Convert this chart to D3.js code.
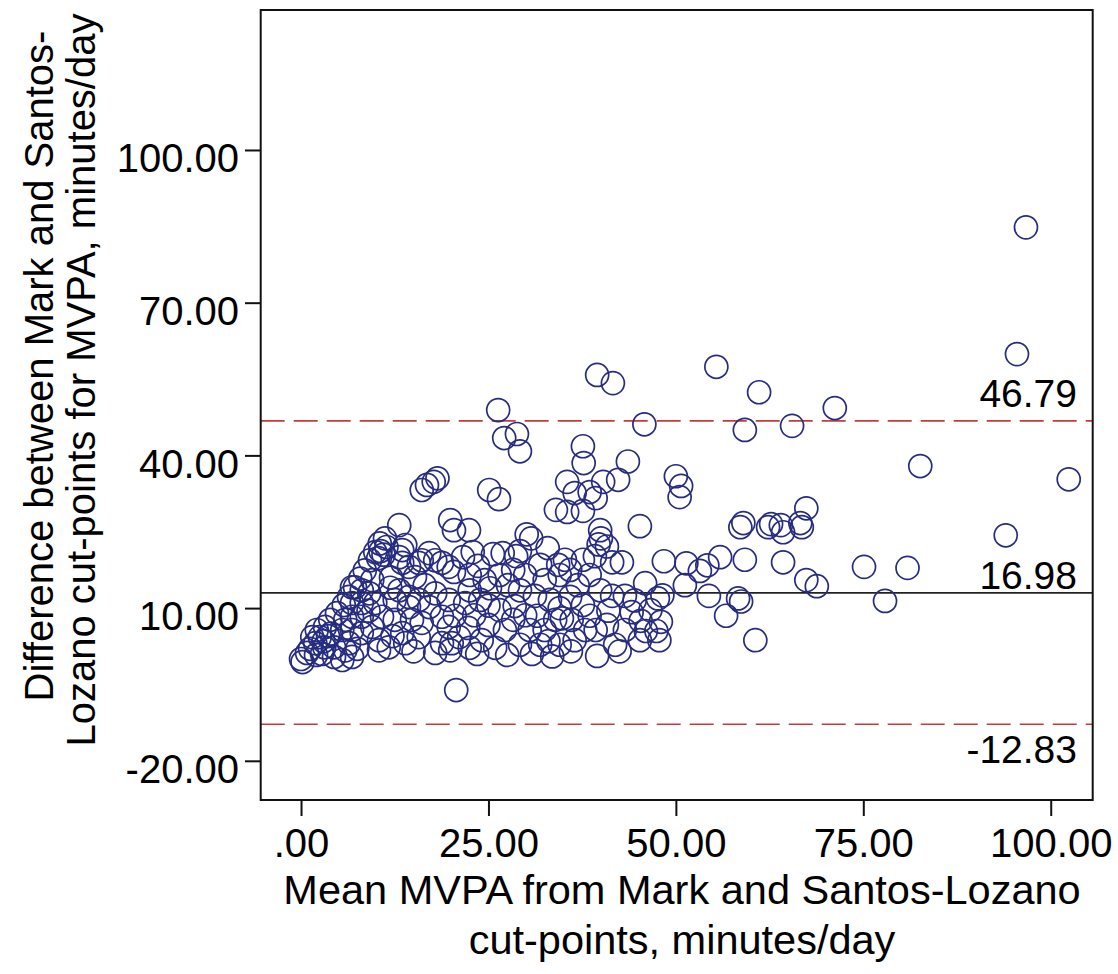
<!DOCTYPE html>
<html lang="en">
<head>
<meta charset="UTF-8">
<title>Bland-Altman MVPA</title>
<script src="https://d3js.org/d3.v7.min.js"></script>
<style>
  body { margin: 0; background: #fff; }
  text { font-family: "Liberation Sans", Arial, sans-serif; fill: #000; }
</style>
</head>
<body>
<svg id="chart" width="1118" height="974"></svg>
<script>
// [mean MVPA, difference]
const lowCluster = [
  [0,0],[0.2,-0.6],[0.8,1.2],[1.2,2.0],[1.5,4.3],[1.9,3.1],[2.0,0.8],[2.1,5.7],[2.5,4.3],[2.8,1.0],
  [3.0,3.5],[3.1,2.3],[3.2,6.3],[3.6,4.5],[3.9,7.7],[4.0,5.0],[4.4,2.3],[4.4,0.4],[4.8,9.0],[5.5,-0.2],
  [5.5,5.7],[5.7,10.6],[5.9,1.7],[5.9,7.7],[6.4,12.2],[6.4,3.1],[6.8,14.1],[6.8,11.0],[6.8,8.3],[6.8,5.7],
  [6.8,0.4],[7.2,14.1],[7.5,2.0],[7.9,15.8],[8.1,13.5],[8.1,11.0],[8.1,8.3],[8.1,5.1],[8.5,17.4],[9.0,9.5],
  [9.1,12.9],[9.2,19.4],[9.5,15.5],[9.5,6.3],[9.9,21.0],[9.9,11.0],[10.3,19.8],[10.4,3.7],[10.4,1.7],[10.5,22.7],
  [10.6,21.2],[10.8,8.3],[11.0,20.5],[11.2,23.7],[11.4,22.0],[11.7,2.3],[11.9,14.0],[12.0,16.0]
];
const midCluster = [
  [12.2,4.5],[12.5,11.6],[12.5,7.7],[13.1,26.3],[13.1,20.0],[13.1,13.5],[13.5,21.4],[13.5,18.9],[13.5,5.1],[13.9,22.4],
  [13.9,3.1],[14.4,18.1],[14.4,12.2],[14.4,10.2],[14.8,7.7],[15.0,1.5],[15.2,16.1],[15.7,18.9],[15.7,11.6],[15.7,4.3],
  [16.1,33.2],[16.1,19.4],[16.1,7.1],[16.5,14.5],[16.8,34.2],[17.1,20.8],[17.1,10.2],[17.7,34.8],[17.9,19.4],[17.9,12.9],
  [17.9,1.2],[18.2,35.5],[18.8,18.9],[18.8,8.3],[18.8,3.1],[19.7,18.1],[19.7,11.6],[19.7,6.3],[19.9,27.3],[19.9,1.7],
  [20.1,3.1],[20.4,25.3],[20.4,17.1],[20.5,8.5],[20.7,-6.1],[21.1,4.3],[21.6,20.0],[21.9,11.0],[22.3,6.1],[22.4,25.3],
  [22.5,16.5],[22.5,13.5],[22.5,2.2],[22.9,21.0],[23.1,8.6],[23.5,1.0],[23.6,18.3],[23.9,11.6],[24.1,3.7],[24.5,15.5],
  [25.0,6.7],[25.0,10.5],[25.1,33.2],[25.2,13.9],[25.6,20.6],[25.9,2.2],[26.3,48.9],[26.4,31.4],[26.5,16.5],[26.5,9.6],
  [26.9,20.8],[27.1,43.4],[27.2,5.7],[27.5,0.8],[27.6,14.5],[28.3,17.5],[28.3,7.7],[28.5,10.4],[28.7,20.2],[28.8,44.2],
  [29.2,40.8],[29.2,21.2],[29.2,13.5],[29.2,2.8],[29.9,16.5],[29.9,8.6],[30.1,24.5],[30.5,5.7],[30.7,23.7],[30.8,1.0],
  [31.2,12.4],[31.5,8.5],[31.9,18.5],[31.9,2.8],[32.5,15.5],[32.5,5.7],[32.9,21.8],[33.0,3.5],[33.2,11.6],[33.5,0.5],
  [33.9,7.7],[34.0,29.3],[34.3,18.5],[34.5,16.5],[34.5,10.0],[34.5,2.8],[34.8,8.0]
];
const upperMid = [
  [35.2,19.5],[35.5,34.8],[35.5,28.9],[35.9,17.5],[35.9,12.2],[36.0,1.5],[36.1,7.7],[36.5,32.6],[36.5,3.7],[36.9,14.5],
  [37.6,41.8],[37.6,29.1],[37.6,19.5],[37.6,10.6],[37.7,38.5],[37.9,5.7],[38.5,32.8],[38.5,16.5],[38.5,8.5],[39.2,20.2],
  [39.3,31.6],[39.3,5.7],[39.5,55.8],[39.5,0.6],[39.7,22.5],[39.9,25.3],[39.9,13.5],[40.0,23.7],[40.3,34.8],[40.8,22.1],
  [40.8,6.7],[41.0,9.5],[41.5,19.0],[41.5,12.4],[41.6,54.2],[41.9,2.8],[42.3,35.2],[42.5,1.5],[42.8,19.0],[43.2,12.4],
  [43.2,5.7],[43.6,38.8],[44.1,9.2],[44.5,11.5],[45.2,26.1],[45.2,3.7],[45.3,7.5],[45.8,46.1],[45.9,14.9],[46.0,5.5],
  [46.6,9.6],[47.4,5.5],[47.6,11.9],[47.8,3.7],[48.0,7.3],[48.2,12.5],[48.4,19.2]
];
const highRange = [
  [50.0,35.9],[50.5,31.8],[50.7,34.0],[51.2,14.5],[51.4,18.8],[53.2,17.3],[54.2,18.4],[54.4,12.4],[55.4,57.4],[55.9,20.0],
  [56.7,8.5],[58.3,11.9],[58.6,25.9],[58.7,11.3],[59.0,26.7],[59.2,45.0],[59.2,19.5],[60.6,3.7],[61.1,52.4],[62.3,25.9],
  [62.7,26.5],[64.0,26.3],[64.3,24.9],[64.3,19.0],[65.5,45.8],[66.6,26.7],[66.8,25.9],[67.4,29.6],[67.4,15.5],[68.8,14.3],
  [71.2,49.3],[75.1,18.1],[77.9,11.4],[80.9,17.9],[82.6,37.9],[94.0,24.3],[95.5,59.9],[96.7,84.8],[102.4,35.3]
];

// limits of agreement and mean line (line drawn where it sits in the picture)
const refValues = [46.79, 13.0, -12.83];
const refLabels = ["46.79", "16.98", "-12.83"];

const xTicks = [0, 25, 50, 75, 100];
const yTicks = [-20, 10, 40, 70, 100];

const xTitle = ["Mean MVPA from Mark and Santos-Lozano", "cut-points, minutes/day"];
const yTitle = ["Difference between Mark and Santos-", "Lozano cut-points for MVPA, minutes/day"];

const points = lowCluster.concat(midCluster, upperMid, highRange);

const svg = d3.select("#chart");
const plotL = 260.7, plotR = 1092.7, plotT = 10, plotB = 800;

const x = d3.scaleLinear().domain([-5.38, 105.6]).range([plotL, plotR]);
const y = d3.scaleLinear().domain([-27.7, 127.5]).range([plotB, plotT]);

const fmt = d => d === 0 ? ".00" : d.toFixed(2);

// axes
const xAxis = svg.append("g")
    .attr("transform", `translate(0,${plotB})`)
    .call(d3.axisBottom(x).tickValues(xTicks).tickFormat(fmt).tickSize(16).tickPadding(13));
const yAxis = svg.append("g")
    .attr("transform", `translate(${plotL},0)`)
    .call(d3.axisLeft(y).tickValues(yTicks).tickFormat(fmt).tickSize(15.7).tickPadding(6));

[xAxis, yAxis].forEach(g => {
  g.select(".domain").remove();
  g.selectAll(".tick line").attr("stroke", "#111").attr("stroke-width", 2);
  g.selectAll(".tick text")
      .style("font-family", '"Liberation Sans", Arial, sans-serif')
      .style("font-size", "40px")
      .attr("fill", "#000");
});
yAxis.selectAll(".tick text").attr("dy", "0.54em");

// reference lines
const refs = svg.append("g");
refValues.forEach((v, i) => {
  refs.append("line")
      .attr("x1", plotL).attr("x2", plotR)
      .attr("y1", y(v)).attr("y2", y(v))
      .attr("stroke", i === 1 ? "#222" : "#c43d3d")
      .attr("stroke-width", 1.6)
      .attr("stroke-dasharray", i === 1 ? null : "24,9");
});

const labelShift = [-14, -4, 39];
svg.selectAll("text.ref")
  .data(refLabels)
  .enter()
  .append("text")
    .attr("class", "ref")
    .attr("x", 1077)
    .attr("y", (d, i) => y(refValues[i]) + labelShift[i])
    .attr("text-anchor", "end")
    .style("font-size", "39px")
    .text(d => d);

// points
svg.append("g")
  .selectAll("circle")
  .data(points)
  .enter()
  .append("circle")
    .attr("cx", d => x(d[0]))
    .attr("cy", d => y(d[1]))
    .attr("r", 11.5)
    .attr("fill", "none")
    .attr("stroke", "#262c7f")
    .attr("stroke-width", 1.7);

// frame
svg.append("rect")
    .attr("x", plotL).attr("y", plotT)
    .attr("width", plotR - plotL).attr("height", plotB - plotT)
    .attr("fill", "none")
    .attr("stroke", "#111")
    .attr("stroke-width", 2);

// axis titles
svg.selectAll("text.xt")
  .data(xTitle)
  .enter()
  .append("text")
    .attr("class", "xt")
    .attr("x", 682)
    .attr("y", (d, i) => 904 + i * 50)
    .attr("text-anchor", "middle")
    .style("font-size", "41.5px")
    .text(d => d);

const yCenters = [366, 380];
svg.selectAll("text.yt")
  .data(yTitle)
  .enter()
  .append("text")
    .attr("class", "yt")
    .attr("transform", (d, i) => `translate(${53 + i * 42},${yCenters[i]}) rotate(-90)`)
    .attr("text-anchor", "middle")
    .style("font-size", "40px")
    .text(d => d);
</script>
</body>
</html>
